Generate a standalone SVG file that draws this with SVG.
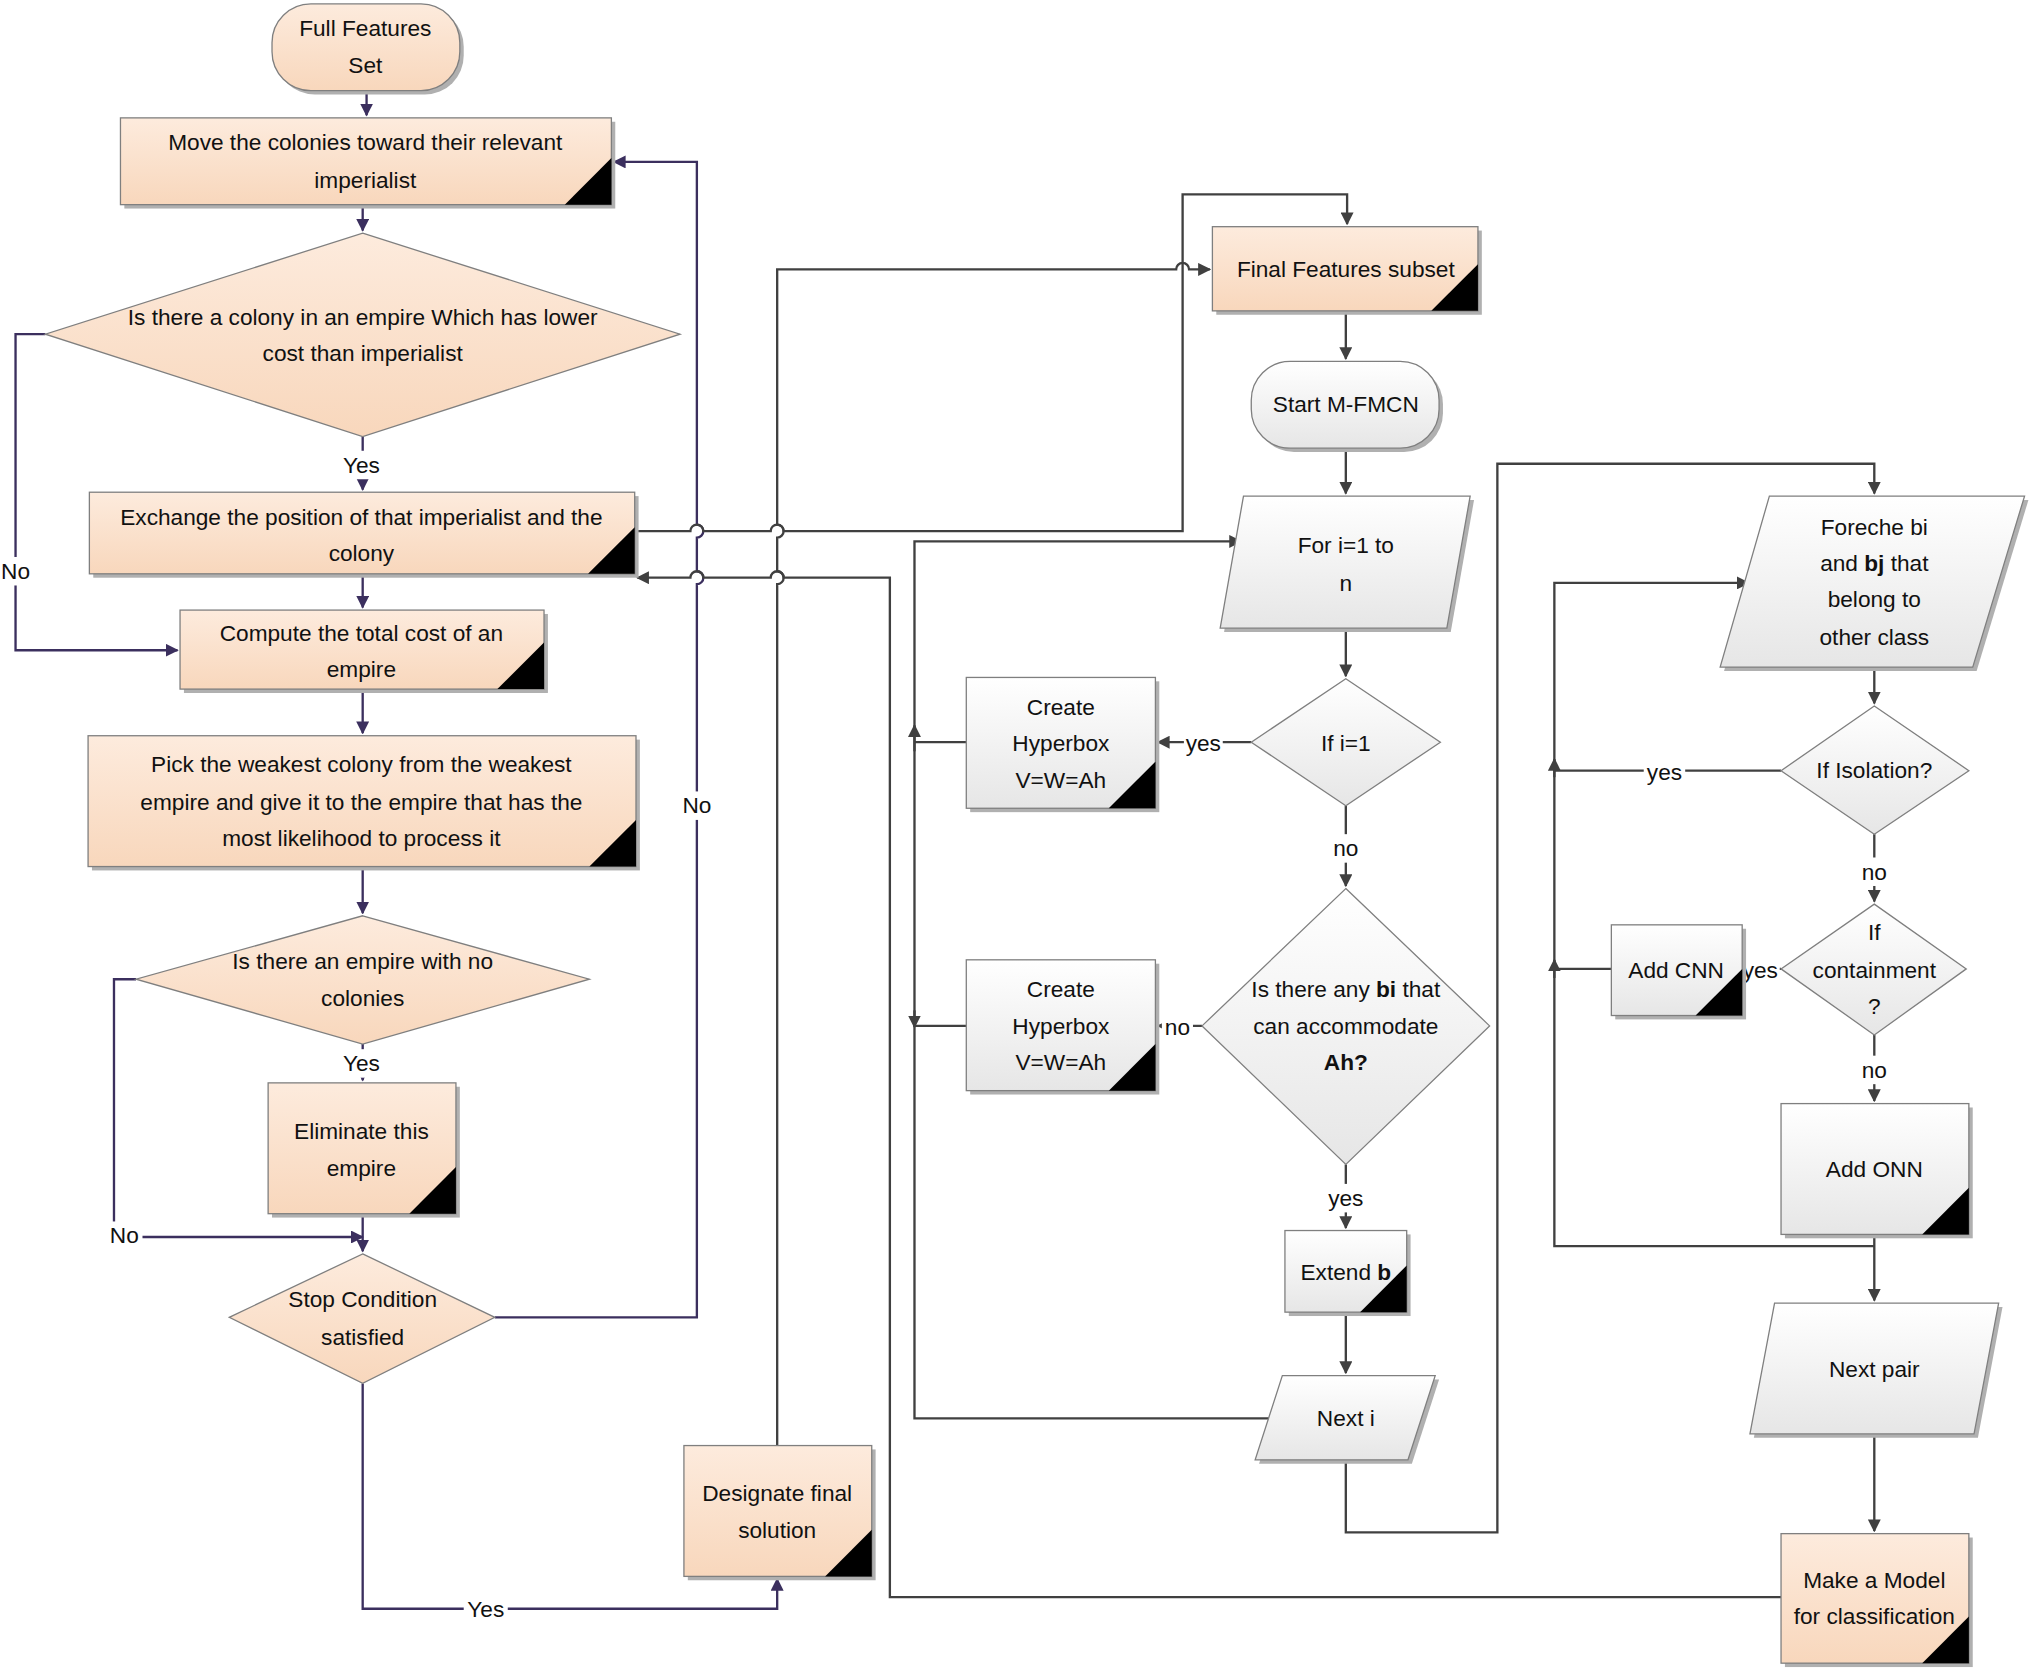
<svg xmlns="http://www.w3.org/2000/svg" width="2031" height="1670" viewBox="0 0 2031 1670">
<defs>
<linearGradient id="pe" x1="0" y1="0" x2="0" y2="1"><stop offset="0" stop-color="#FDEBDD"/><stop offset="1" stop-color="#F8D7BC"/></linearGradient>
<linearGradient id="gr" x1="0" y1="0" x2="0" y2="1"><stop offset="0" stop-color="#FFFFFF"/><stop offset="1" stop-color="#E6E6E6"/></linearGradient>
<marker id="ap" viewBox="0 0 10 10" refX="9" refY="5" markerWidth="10" markerHeight="10" markerUnits="userSpaceOnUse" orient="auto"><path d="M0,0L10,5L0,10z" fill="#3B2F5E"/></marker>
<marker id="ag" viewBox="0 0 10 10" refX="9" refY="5" markerWidth="10" markerHeight="10" markerUnits="userSpaceOnUse" orient="auto"><path d="M0,0L10,5L0,10z" fill="#404040"/></marker>
</defs>
<style>
.p{fill:url(#pe);stroke:#7f7f7f;stroke-width:1}
.g{fill:url(#gr);stroke:#7f7f7f;stroke-width:1}
.s{fill:#b0b0b0}
.t{fill:#000}
text{font-family:"Liberation Sans",Arial,sans-serif;font-size:17.5px;text-anchor:middle;fill:#111}
.lp{fill:none;stroke:#3B2F5E;stroke-width:1.8}
.lg{fill:none;stroke:#404040;stroke-width:1.8}
.lb{fill:#fff}
</style>
<g transform="scale(1.2953)">
<g id="connectors">
<path class="lp" d="M283,70V89" marker-end="url(#ap)"/>
<path class="lp" d="M280,158V178" marker-end="url(#ap)"/>
<path class="lp" d="M280,337V378" marker-end="url(#ap)"/>
<path class="lp" d="M280,443V469" marker-end="url(#ap)"/>
<path class="lp" d="M280,532V566" marker-end="url(#ap)"/>
<path class="lp" d="M280,669V705" marker-end="url(#ap)"/>
<path class="lp" d="M280,806V834" marker-end="url(#ap)"/>
<path class="lp" d="M280,937V966" marker-end="url(#ap)"/>
<path class="lp" d="M35,258H12V502H137" marker-end="url(#ap)"/>
<path class="lp" d="M105,756H88V955H280" marker-end="url(#ap)"/>
<path class="lp" d="M382,1017H538V451a5,5 0 0 0 0,-10V415a5,5 0 0 0 0,-10V125H474" marker-end="url(#ap)"/>
<path class="lp" d="M280,1068V1242H600V1219" marker-end="url(#ap)"/>
<path class="lg" d="M600,1116V451a5,5 0 0 0 0,-10V415a5,5 0 0 0 0,-10V208H908a5,5 0 0 1 10,0H934" marker-end="url(#ag)"/>
<path class="lg" d="M490,410H533a5,5 0 0 1 10,0H595a5,5 0 0 1 10,0H913V150H1040V173" marker-end="url(#ag)"/>
<path class="lg" d="M1375,1233H687V446H605a5,5 0 0 0 -10,0H543a5,5 0 0 0 -10,0H492" marker-end="url(#ag)"/>
<path class="lg" d="M1039,240V277" marker-end="url(#ag)"/>
<path class="lg" d="M1039,346V381" marker-end="url(#ag)"/>
<path class="lg" d="M1039,485V522" marker-end="url(#ag)"/>
<path class="lg" d="M1039,622V684" marker-end="url(#ag)"/>
<path class="lg" d="M966,573H894" marker-end="url(#ag)"/>
<path class="lg" d="M928,792H894" marker-end="url(#ag)"/>
<path class="lg" d="M1039,899V948" marker-end="url(#ag)"/>
<path class="lg" d="M1039,1013V1060" marker-end="url(#ag)"/>
<path class="lg" d="M990,1095H706V418H958" marker-end="url(#ag)"/>
<path class="lg" d="M746,573H706M746,792H706"/>
<path class="lg" d="M706,580V560" marker-end="url(#ag)"/>
<path class="lg" d="M706,780V793" marker-end="url(#ag)"/>
<path class="lg" d="M1039,1127V1183H1156V358H1447V381" marker-end="url(#ag)"/>
<path class="lg" d="M1447,515V543" marker-end="url(#ag)"/>
<path class="lg" d="M1375,595H1200"/>
<path class="lg" d="M1447,644V696" marker-end="url(#ag)"/>
<path class="lg" d="M1375,748H1347" marker-end="url(#ag)"/>
<path class="lg" d="M1244,748H1200"/>
<path class="lg" d="M1447,799V850" marker-end="url(#ag)"/>
<path class="lg" d="M1447,953V1004" marker-end="url(#ag)"/>
<path class="lg" d="M1447,962H1200V450H1350" marker-end="url(#ag)"/>
<path class="lg" d="M1200,600V586" marker-end="url(#ag)"/>
<path class="lg" d="M1200,755V741" marker-end="url(#ag)"/>
<path class="lg" d="M1447,1107V1182" marker-end="url(#ag)"/>
<rect class="lb" x="262" y="348" width="36" height="22"/><text x="279" y="365">Yes</text>
<rect class="lb" x="262" y="810" width="36" height="22"/><text x="279" y="827">Yes</text>
<rect class="lb" x="0" y="430" width="25" height="22"/><text x="12" y="447">No</text>
<rect class="lb" x="82" y="943" width="28" height="22"/><text x="96" y="960">No</text>
<rect class="lb" x="524" y="611" width="28" height="22"/><text x="538" y="628">No</text>
<rect class="lb" x="358" y="1231" width="34" height="22"/><text x="375" y="1248">Yes</text>
<rect class="lb" x="914" y="563" width="30" height="22"/><text x="929" y="580">yes</text>
<rect class="lb" x="897" y="782" width="24" height="22"/><text x="909" y="799">no</text>
<rect class="lb" x="1026" y="644" width="26" height="22"/><text x="1039" y="661">no</text>
<rect class="lb" x="1023" y="914" width="32" height="22"/><text x="1039" y="931">yes</text>
<rect class="lb" x="1269" y="585" width="32" height="22"/><text x="1285" y="602">yes</text>
<rect class="lb" x="1434" y="662" width="26" height="22"/><text x="1447" y="679">no</text>
<rect class="lb" x="1346" y="738" width="28" height="22"/><text x="1359" y="755">yes</text>
<rect class="lb" x="1434" y="815" width="26" height="22"/><text x="1447" y="832">no</text>
</g>
<g id="n1"><rect class="s" x="213" y="6" width="145" height="67" rx="30"/><rect class="p" x="210" y="3" width="145" height="67" rx="30"/><text x="282" y="28">Full Features</text><text x="282" y="56">Set</text></g>
<g id="n2"><rect class="s" x="96" y="94" width="379" height="67"/><rect class="p" x="93" y="91" width="379" height="67"/><path class="t" d="M436,158H472V122z"/><text x="282" y="116">Move the colonies toward their relevant</text><text x="282" y="145">imperialist</text></g>
<g id="n3"><path class="p" d="M280,180L525,258L280,337L35,258z"/><text x="280" y="251">Is there a colony in an empire Which has lower</text><text x="280" y="279">cost than  imperialist</text></g>
<g id="n4"><rect class="s" x="72" y="383" width="421" height="63"/><rect class="p" x="69" y="380" width="421" height="63"/><path class="t" d="M454,443H490V407z"/><text x="279" y="405">Exchange the position of that imperialist and the</text><text x="279" y="433">colony</text></g>
<g id="n5"><rect class="s" x="142" y="474" width="281" height="61"/><rect class="p" x="139" y="471" width="281" height="61"/><path class="t" d="M384,532H420V496z"/><text x="279" y="495">Compute the total cost of an</text><text x="279" y="523">empire</text></g>
<g id="n6"><rect class="s" x="71" y="571" width="423" height="101"/><rect class="p" x="68" y="568" width="423" height="101"/><path class="t" d="M455,669H491V633z"/><text x="279" y="596">Pick the weakest colony from the weakest</text><text x="279" y="625">empire and give it to the empire that has the</text><text x="279" y="653">most likelihood to process it</text></g>
<g id="n7"><path class="p" d="M280,707L455,756L280,806L105,756z"/><text x="280" y="748">Is there an empire with no</text><text x="280" y="777">colonies</text></g>
<g id="n8"><rect class="s" x="210" y="839" width="145" height="101"/><rect class="p" x="207" y="836" width="145" height="101"/><path class="t" d="M316,937H352V901z"/><text x="279" y="879">Eliminate this</text><text x="279" y="908">empire</text></g>
<g id="n9"><path class="p" d="M280,968L382,1017L280,1068L177,1017z"/><text x="280" y="1009">Stop Condition</text><text x="280" y="1038">satisfied</text></g>
<g id="n10"><rect class="s" x="531" y="1119" width="145" height="101"/><rect class="p" x="528" y="1116" width="145" height="101"/><path class="t" d="M637,1217H673V1181z"/><text x="600" y="1159">Designate final</text><text x="600" y="1187">solution</text></g>
<g id="n11"><rect class="s" x="939" y="178" width="205" height="65"/><rect class="p" x="936" y="175" width="205" height="65"/><path class="t" d="M1105,240H1141V204z"/><text x="1039" y="214">Final Features subset</text></g>
<g id="n12"><rect class="s" x="969" y="282" width="145" height="67" rx="30"/><rect class="g" x="966" y="279" width="145" height="67" rx="30"/><text x="1039" y="318">Start M-FMCN</text></g>
<g id="n13"><path class="s" d="M963,386H1138L1120,488H945z"/><path class="g" d="M960,383H1135L1117,485H942z"/><text x="1039" y="427">For i=1 to</text><text x="1039" y="456">n</text></g>
<g id="n14"><path class="g" d="M1039,524L1112,573L1039,622L966,573z"/><text x="1039" y="580">If i=1</text></g>
<g id="n15"><path class="g" d="M1039,686L1150,792L1039,899L928,792z"/><text x="1039" y="770">Is there any <tspan font-weight="bold">bi</tspan> that</text><text x="1039" y="798">can accommodate</text><text x="1039" y="826" font-weight="bold">Ah?</text></g>
<g id="n16"><rect class="s" x="995" y="953" width="94" height="63"/><rect class="g" x="992" y="950" width="94" height="63"/><path class="t" d="M1050,1013H1086V977z"/><text x="1039" y="988">Extend <tspan font-weight="bold">b</tspan></text></g>
<g id="n17"><path class="s" d="M993,1065H1111L1090,1130H972z"/><path class="g" d="M990,1062H1108L1087,1127H969z"/><text x="1039" y="1101">Next i</text></g>
<g id="n18"><rect class="s" x="749" y="526" width="146" height="101"/><rect class="g" x="746" y="523" width="146" height="101"/><path class="t" d="M856,624H892V588z"/><text x="819" y="552">Create</text><text x="819" y="580">Hyperbox</text><text x="819" y="608">V=W=Ah</text></g>
<g id="n19"><rect class="s" x="749" y="744" width="146" height="101"/><rect class="g" x="746" y="741" width="146" height="101"/><path class="t" d="M856,842H892V806z"/><text x="819" y="770">Create</text><text x="819" y="798">Hyperbox</text><text x="819" y="826">V=W=Ah</text></g>
<g id="n20"><path class="s" d="M1369,386H1566L1526,518H1331z"/><path class="g" d="M1366,383H1563L1523,515H1328z"/><text x="1447" y="413">Foreche bi</text><text x="1447" y="441">and <tspan font-weight="bold">bj</tspan> that</text><text x="1447" y="469">belong to</text><text x="1447" y="498">other class</text></g>
<g id="n21"><path class="g" d="M1447,545L1520,595L1447,644L1375,595z"/><text x="1447" y="601">If Isolation?</text></g>
<g id="n22"><path class="g" d="M1447,698L1518,748L1447,799L1375,748z"/><text x="1447" y="726">If</text><text x="1447" y="755">containment</text><text x="1447" y="783">?</text></g>
<g id="n23"><rect class="s" x="1247" y="717" width="101" height="70"/><rect class="g" x="1244" y="714" width="101" height="70"/><path class="t" d="M1309,784H1345V748z"/><text x="1294" y="755">Add CNN</text></g>
<g id="n24"><rect class="s" x="1378" y="855" width="145" height="101"/><rect class="g" x="1375" y="852" width="145" height="101"/><path class="t" d="M1484,953H1520V917z"/><text x="1447" y="909">Add ONN</text></g>
<g id="n25"><path class="s" d="M1373,1009H1546L1527,1110H1354z"/><path class="g" d="M1370,1006H1543L1524,1107H1351z"/><text x="1447" y="1063">Next pair</text></g>
<g id="n26"><rect class="s" x="1378" y="1187" width="145" height="100"/><rect class="p" x="1375" y="1184" width="145" height="100"/><path class="t" d="M1484,1284H1520V1248z"/><text x="1447" y="1226">Make a Model</text><text x="1447" y="1254">for classification</text></g>
</g>
</svg>
